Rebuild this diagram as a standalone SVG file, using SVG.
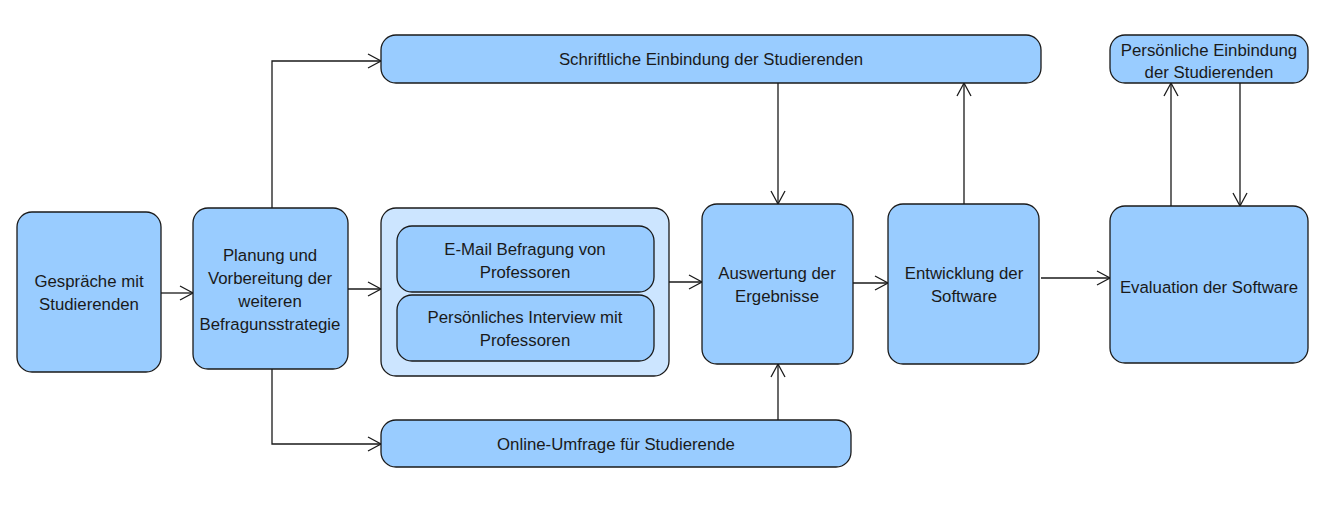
<svg xmlns="http://www.w3.org/2000/svg" width="1323" height="515" viewBox="0 0 1323 515">
<defs>
<style>
.n{fill:#99ccff;stroke:#1a1a1a;stroke-width:1.3}
.c{fill:#cce5ff;stroke:#1a1a1a;stroke-width:1.3}
.t{font-family:"Liberation Sans",Arial,sans-serif;font-size:16.8px;fill:#1a1a1a;text-anchor:middle}
.e{fill:none;stroke:#1a1a1a;stroke-width:1.3}
</style>
<marker id="a" viewBox="0 0 16 16" refX="14" refY="8" markerWidth="16" markerHeight="16" markerUnits="userSpaceOnUse" orient="auto">
<path d="M1,1 L14,8 L1,15" fill="none" stroke="#1a1a1a" stroke-width="1.3"/>
</marker>
</defs>
<rect width="1323" height="515" fill="#ffffff"/>
<g id="connectors">
<path class="e" d="M161,293 H193" marker-end="url(#a)"/>
<path class="e" d="M348,289 H381" marker-end="url(#a)"/>
<path class="e" d="M272,208 V61 H381" marker-end="url(#a)"/>
<path class="e" d="M272,369 V444 H381" marker-end="url(#a)"/>
<path class="e" d="M669,282 H702" marker-end="url(#a)"/>
<path class="e" d="M778,83 V204" marker-end="url(#a)"/>
<path class="e" d="M778,420 V364" marker-end="url(#a)"/>
<path class="e" d="M853,283 H888" marker-end="url(#a)"/>
<path class="e" d="M964,204 V83" marker-end="url(#a)"/>
<path class="e" d="M1041,278 H1110" marker-end="url(#a)"/>
<path class="e" d="M1171,206 V83" marker-end="url(#a)"/>
<path class="e" d="M1240,83 V206" marker-end="url(#a)"/>
</g>
<g id="n1">
<rect class="n" x="17" y="212" width="144" height="160" rx="15"/>
<text class="t" x="89" y="287">Gespräche mit</text>
<text class="t" x="89" y="310">Studierenden</text>
</g>
<g id="n2">
<rect class="n" x="193" y="208" width="155" height="161" rx="15"/>
<text class="t" x="270" y="261">Planung und</text>
<text class="t" x="270" y="284">Vorbereitung der</text>
<text class="t" x="270" y="307">weiteren</text>
<text class="t" x="270" y="330">Befragunsstrategie</text>
</g>
<g id="n3">
<rect class="c" x="381" y="208" width="288" height="168" rx="15"/>
</g>
<g id="n3a">
<rect class="n" x="397" y="226" width="257" height="66" rx="15"/>
<text class="t" x="525" y="255">E-Mail Befragung von</text>
<text class="t" x="525" y="278">Professoren</text>
</g>
<g id="n3b">
<rect class="n" x="397" y="295" width="257" height="66" rx="15"/>
<text class="t" x="525" y="323">Persönliches Interview mit</text>
<text class="t" x="525" y="346">Professoren</text>
</g>
<g id="n4">
<rect class="n" x="381" y="35" width="660" height="48" rx="15"/>
<text class="t" x="711" y="65">Schriftliche Einbindung der Studierenden</text>
</g>
<g id="n5">
<rect class="n" x="381" y="420" width="470" height="47" rx="15"/>
<text class="t" x="616" y="450">Online-Umfrage für Studierende</text>
</g>
<g id="n6">
<rect class="n" x="702" y="204" width="151" height="160" rx="15"/>
<text class="t" x="777" y="279">Auswertung der</text>
<text class="t" x="777" y="302">Ergebnisse</text>
</g>
<g id="n7">
<rect class="n" x="888" y="204" width="151" height="160" rx="15"/>
<text class="t" x="964" y="279">Entwicklung der</text>
<text class="t" x="964" y="302">Software</text>
</g>
<g id="n8">
<rect class="n" x="1110" y="206" width="198" height="157" rx="15"/>
<text class="t" x="1209" y="293">Evaluation der Software</text>
</g>
<g id="n9">
<rect class="n" x="1110" y="35" width="198" height="48" rx="15"/>
<text class="t" x="1209" y="56">Persönliche Einbindung</text>
<text class="t" x="1209" y="78">der Studierenden</text>
</g>
</svg>
